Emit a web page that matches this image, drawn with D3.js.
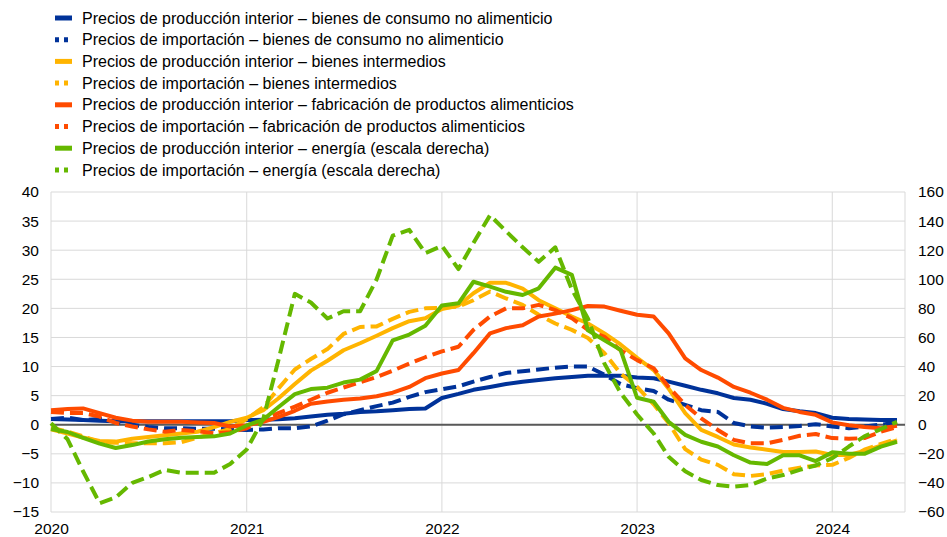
<!DOCTYPE html>
<html>
<head>
<meta charset="utf-8">
<script src="https://cdn.jsdelivr.net/npm/d3@7"></script>
<style>
  body { margin: 0; background: #fff; }
  text { font-family: Arial, "Liberation Sans", sans-serif; fill: #000; }
</style>
</head>
<body>
<div id="chart"></div>
<script>
// monthly observations, Jan 2020 .. May 2024
const startMonth = new Date(2020, 0, 1);

const ppiConsumo = [1.0,0.9,0.8,0.7,0.6,0.6,0.6,0.6,0.6,0.6,0.6,0.6,
  0.8,0.85,0.95,1.1,1.4,1.7,1.9,2.2,2.3,2.5,2.7,2.8,
  4.6,5.3,6.0,6.5,7.0,7.4,7.7,8.0,8.2,8.4,8.4,8.4,
  8.1,8.0,7.4,6.7,6.0,5.4,4.6,4.3,3.6,2.7,2.3,2.0,
  1.2,1.0,0.9,0.8,0.8];
const impConsumo = [1.0,1.2,0.8,1.0,0.5,0.0,-0.4,-0.6,-0.6,-0.7,-0.7,-0.8,
  -0.9,-0.8,-0.6,-0.6,-0.3,0.7,1.8,2.5,3.2,3.8,4.8,5.6,
  6.1,6.6,7.4,8.2,8.9,9.2,9.5,9.8,10.0,10.0,8.6,7.0,
  6.3,5.8,4.3,3.4,2.5,2.2,0.3,-0.3,-0.5,-0.4,-0.2,0.1,
  -0.3,-0.6,-0.3,0.0,0.4];
const ppiIntermedios = [-0.8,-1.5,-2.2,-2.8,-2.9,-2.4,-2.1,-1.8,-1.5,-1.2,-0.4,0.5,
  1.2,2.5,4.5,7.0,9.3,11.0,12.8,14.0,15.3,16.6,17.8,18.3,
  19.9,20.5,22.6,24.4,24.4,23.4,21.4,20.0,18.6,17.4,15.7,13.8,
  11.5,9.4,6.2,2.0,-0.9,-2.1,-3.4,-3.9,-4.3,-4.7,-4.7,-4.6,
  -5.2,-5.2,-4.5,-3.6,-2.7];
const impIntermedios = [-0.5,-1.2,-2.0,-3.0,-3.1,-3.2,-3.2,-3.2,-3.0,-2.2,-1.5,-0.7,
  1.0,3.0,6.2,9.5,11.3,13.0,15.6,16.8,16.9,18.2,19.4,20.0,
  20.1,20.3,21.4,22.9,21.7,20.6,18.9,17.4,16.3,14.9,12.3,8.8,
  6.5,3.5,0.3,-4.2,-6.0,-6.9,-8.5,-8.8,-8.5,-7.9,-7.4,-7.0,
  -6.9,-5.7,-4.3,-3.3,-2.4];
const ppiAlimentos = [2.5,2.7,2.8,2.0,1.2,0.7,0.5,0.5,0.5,0.4,0.3,-0.3,
  -0.1,0.5,1.3,2.4,3.6,4.0,4.3,4.5,4.9,5.5,6.5,8.0,
  8.8,9.4,12.3,15.7,16.6,17.1,18.6,19.1,19.7,20.4,20.3,19.6,
  18.9,18.6,15.7,11.4,9.4,8.1,6.5,5.5,4.3,2.9,2.2,1.7,
  0.4,-0.1,-0.4,-0.6,-0.2];
const impAlimentos = [2.2,2.0,2.0,1.4,0.3,-0.3,-0.8,-1.2,-0.9,-1.1,-1.5,-1.3,
  -0.6,0.8,2.0,3.1,4.3,5.5,6.4,7.3,8.2,9.3,10.5,11.6,
  12.6,13.4,16.3,18.6,20.0,20.0,20.6,19.7,18.3,16.3,15.1,12.8,
  11.1,9.7,6.5,3.4,1.1,-0.9,-2.6,-3.2,-3.2,-2.6,-1.9,-1.6,
  -2.3,-2.4,-2.3,-1.2,-0.4];
// right axis
const ppiEnergia = [-3,-5,-9,-13,-16,-14,-11.5,-10,-9,-8.5,-8,-6,
  -0.5,3.5,12,21,24.5,25.5,29,31,37,58,62,68,
  82,83.5,98.3,94.9,91.4,89.2,93.8,108,103,65,58,51.5,
  18.5,15.8,2,-7,-11.7,-15,-21,-26,-27,-21,-21,-25,
  -19,-20,-20,-15,-11.7];
const impEnergia = [1,-10,-32,-54,-50,-40,-36,-31,-33,-33,-33,-27,
  -17,4,44,90,84,73,78,78,100,130,134,118,
  123,107,125,144,133,122,112,122,93,73,42,22,
  7,-6,-22,-32,-38,-41.5,-42.6,-41.5,-37,-34.6,-31,-28,
  -23,-15,-8,-3,2];

const leftTicks = [-15,-10,-5,0,5,10,15,20,25,30,35,40];
const rightTicks = [-60,-40,-20,0,20,40,60,80,100,120,140,160];
const yearTicks = [2020,2021,2022,2023,2024];

const labels = [
  "Precios de producción interior – bienes de consumo no alimenticio",
  "Precios de importación – bienes de consumo no alimenticio",
  "Precios de producción interior – bienes intermedios",
  "Precios de importación – bienes intermedios",
  "Precios de producción interior – fabricación de productos alimenticios",
  "Precios de importación – fabricación de productos alimenticios",
  "Precios de producción interior – energía (escala derecha)",
  "Precios de importación – energía (escala derecha)"
];

const colBlue = "#003299", colYellow = "#ffb400", colRed = "#ff4b00", colGreen = "#65b800";

const series = [
  {values: ppiConsumo, color: colBlue, dashed: false, right: false},
  {values: impConsumo, color: colBlue, dashed: true, right: false},
  {values: ppiIntermedios, color: colYellow, dashed: false, right: false},
  {values: impIntermedios, color: colYellow, dashed: true, right: false},
  {values: ppiAlimentos, color: colRed, dashed: false, right: false},
  {values: impAlimentos, color: colRed, dashed: true, right: false},
  {values: ppiEnergia, color: colGreen, dashed: false, right: true},
  {values: impEnergia, color: colGreen, dashed: true, right: true}
];
series.forEach((s, i) => s.label = labels[i]);

const width = 947, height = 537;
const plot = {left: 51, right: 905, top: 192, bottom: 512};
const dashPattern = "13,6";

let svg = d3.select("#chart")
            .append("svg")
            .attr("width", width)
            .attr("height", height);

const x = d3.scaleTime()
            .domain([startMonth, new Date(2024, 4, 16)])
            .range([plot.left, plot.right]);
const yLeft = d3.scaleLinear().domain([-15, 40]).range([plot.bottom, plot.top]);
const yRight = d3.scaleLinear().domain([-60, 160]).range([plot.bottom, plot.top]);

const monthDate = i => d3.timeMonth.offset(startMonth, i);

// grid
let grid = svg.append("g");
grid.selectAll(".hgrid")
    .data(leftTicks)
    .enter()
    .append("line")
    .attr("x1", plot.left)
    .attr("x2", plot.right)
    .attr("y1", d => yLeft(d))
    .attr("y2", d => yLeft(d))
    .attr("stroke", "#d9d9d9")
    .attr("stroke-width", 1);

grid.selectAll(".vgrid")
    .data(yearTicks.concat([null]))
    .enter()
    .append("line")
    .attr("x1", d => d === null ? plot.right : x(new Date(d, 0, 1)))
    .attr("x2", d => d === null ? plot.right : x(new Date(d, 0, 1)))
    .attr("y1", plot.top)
    .attr("y2", plot.bottom)
    .attr("stroke", "#d9d9d9")
    .attr("stroke-width", 1);

// zero line
svg.append("line")
    .attr("x1", plot.left)
    .attr("x2", plot.right)
    .attr("y1", yLeft(0))
    .attr("y2", yLeft(0))
    .attr("stroke", "#595959")
    .attr("stroke-width", 2);

// axes
const axisLeft = d3.axisLeft(yLeft).tickValues(leftTicks).tickSize(0).tickPadding(12);
const axisRight = d3.axisRight(yRight).tickValues(rightTicks).tickSize(0).tickPadding(13);
const axisBottom = d3.axisBottom(x)
    .tickValues(yearTicks.map(y => new Date(y, 0, 1)))
    .tickFormat(d3.timeFormat("%Y"))
    .tickSize(0)
    .tickPadding(11);

[svg.append("g").attr("transform", "translate(" + plot.left + ",0)").call(axisLeft),
 svg.append("g").attr("transform", "translate(" + plot.right + ",0)").call(axisRight),
 svg.append("g").attr("transform", "translate(0," + plot.bottom + ")").call(axisBottom)]
  .forEach(g => {
    g.select(".domain").remove();
    g.selectAll("text")
     .attr("font-size", "15.5px")
     .attr("font-family", "Arial, 'Liberation Sans', sans-serif")
     .attr("fill", "#000");
  });

// lines
series.forEach(s => {
    const yScale = s.right ? yRight : yLeft;
    const line = d3.line()
        .x((d, i) => x(monthDate(i)))
        .y(d => yScale(d));
    svg.append("path")
        .datum(s.values)
        .attr("d", line)
        .attr("fill", "none")
        .attr("stroke", s.color)
        .attr("stroke-width", 4)
        .attr("stroke-linejoin", "round")
        .attr("stroke-dasharray", s.dashed ? dashPattern : null);
});

// legend
let legend = svg.append("g");
let rows = legend.selectAll("g")
    .data(series)
    .enter()
    .append("g")
    .attr("transform", (d, i) => "translate(55," + (18 + i * 21.7) + ")");

rows.append("line")
    .attr("x1", 0)
    .attr("x2", d => d.dashed ? 14 : 17)
    .attr("y1", 0)
    .attr("y2", 0)
    .attr("stroke", d => d.color)
    .attr("stroke-width", 5)
    .attr("stroke-dasharray", d => d.dashed ? "4,5" : null);

rows.append("text")
    .attr("x", 27)
    .attr("y", 0)
    .attr("dy", "0.35em")
    .attr("font-size", "16px")
    .text(d => d.label);
</script>
</body>
</html>
